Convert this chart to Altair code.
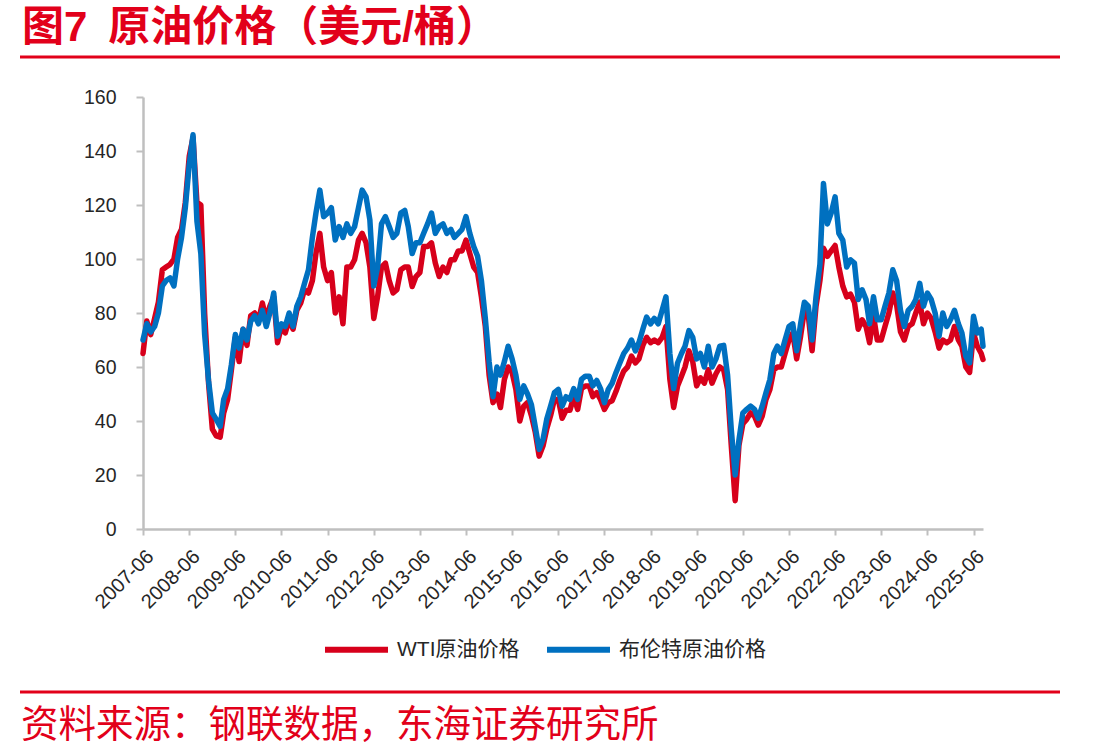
import altair as alt
import pandas as pd

# ---- data (monthly, 2007-06 .. 2025-08, plus last point) ----
months = pd.date_range("2007-06-01", "2025-08-01", freq="MS").strftime("%Y-%m-%dT00:00:00").tolist() + ["2025-08-15T00:00:00"]

wti = [
    65, 77, 72, 78, 84, 96, 97,                                   # 2007 Jun-Dec
    98, 100, 108, 111, 121, 138, 145, 121, 120, 80, 54, 37,       # 2008
    34.5, 34, 43, 48, 59, 71, 62, 74, 68, 79, 80, 77,             # 2009
    83.7, 77.5, 82.5, 86, 69, 75, 72.6, 77.5, 74, 81, 83.7, 88.6, # 2010
    87.4, 92, 102, 109.5, 97, 92, 95, 80, 86, 76, 97, 97,         # 2011
    99.7, 107, 109.5, 106, 97, 78, 86, 97, 98.5, 92, 87.4, 88.6,  # 2012
    96, 97, 97, 89.8, 93.5, 95, 104.6, 104.6, 106, 98.5, 93.5, 97,# 2013
    95, 99.7, 99.7, 103, 103, 107, 102, 97, 95, 86, 75, 57,       # 2014
    46.8, 50, 45, 55.4, 60, 58, 51.7, 40, 45.5, 46.8, 42, 36,     # 2015
    27, 30.8, 37, 42, 48, 48, 41, 44, 44, 49, 44.3, 52,           # 2016
    53, 53, 49, 50.5, 48, 44.3, 46.8, 47.5, 51, 55, 58.5, 60,     # 2017
    64, 61.5, 63, 68, 71, 69, 70, 69, 71, 75, 55.4, 45,           # 2018
    53, 56.6, 60, 66, 62, 53, 56, 54, 59, 54, 57.5, 60,           # 2019
    59, 51.7, 31, 10.5, 31, 39, 40.6, 43, 41.8, 38.5, 41.8, 48,   # 2020
    51.7, 59, 60, 60, 65, 70, 72.6, 63, 71.4, 81, 79, 66,         # 2021
    82.5, 92, 104, 101, 103, 105, 97, 90, 86, 87, 84, 74,         # 2022
    77.5, 75, 69, 79, 70, 70, 75, 80, 87.4, 83, 73, 70,           # 2023
    75, 76, 80, 84, 76, 80, 78, 73, 67, 70, 69, 70,               # 2024
    75, 70, 67.7, 60, 58, 72.6, 67.7, 65, 62.8,                   # 2025
]

brent = [
    70, 76, 73, 75, 80, 90, 92,                                   # 2007 Jun-Dec
    93, 90, 100, 108, 119, 135, 146, 114, 102, 72, 55, 43,        # 2008
    40.6, 38, 48, 52, 61, 72, 67, 74, 70, 77, 79, 76,             # 2009
    81, 75, 80, 87.4, 71.4, 76, 75, 80, 75, 82.5, 86, 91,         # 2010
    96, 108, 117, 125.5, 115.7, 117, 119, 107, 112, 108, 113, 109.5,  # 2011
    112, 119, 125.5, 123, 114.5, 90, 97, 113, 115.7, 112, 108, 109.5, # 2012
    117, 118, 112, 102, 106, 106, 109.5, 113, 117, 109.5, 112, 113,   # 2013
    109.5, 111, 108, 109.5, 111, 115.7, 109.5, 104.6, 101, 92, 78, 62,# 2014
    49, 60, 57, 62, 67.7, 63, 57, 48, 53, 50, 46, 38,             # 2015
    29.5, 33.2, 40.6, 45.5, 50.5, 51.7, 45.5, 49, 48, 52, 48, 55.4,   # 2016
    56.6, 56.6, 53, 55, 52, 46.8, 51.7, 54, 58, 61.5, 65, 67,     # 2017
    70, 66, 69, 74, 78.5, 76, 78, 76, 81, 86, 65, 52,             # 2018
    61.5, 65, 67.7, 73.5, 71, 63, 65, 60, 67.7, 60, 63, 67.7,     # 2019
    68, 57, 37, 20, 33, 43, 44.3, 45.5, 44.3, 41, 45.5, 50.5,     # 2020
    55.4, 65, 67.7, 65, 70, 75, 76, 66, 76, 84, 82.5, 70,         # 2021
    86, 98, 128, 113, 117, 123, 109.5, 107, 97, 99.7, 98.5, 85,   # 2022
    88.6, 85, 76, 86, 77.5, 77.5, 82.5, 87.4, 96, 92, 81, 75,     # 2023
    81, 82.5, 85, 91, 82.5, 87.4, 85, 80, 71.4, 80, 75, 77.5,     # 2024
    81, 76, 72.6, 64, 61.5, 78.8, 72.6, 74, 67.7,                 # 2025
]

series_names = ["WTI原油价格", "布伦特原油价格"]
line_colors = ["#D7001B", "#0070C0"]
tick_years = list(range(2007, 2026))
y_ticks = [0, 20, 40, 60, 80, 100, 120, 140, 160]
title_text = "图7\u2002原油价格（美元/桶）"
source_text = "资料来源：钢联数据，东海证券研究所"

RED = "#E2001A"
AXIS_GRAY = "#BFBFBF"
LABEL_COLOR = "#262626"
LATIN_FONT = "Liberation Sans, Noto Sans CJK SC"
CJK_FONT = "Noto Sans CJK SC"

df = pd.DataFrame({
    "date": months + months,
    "value": wti + brent,
    "series": [series_names[0]] * len(wti) + [series_names[1]] * len(brent),
})

x_enc = alt.X(
    "date:T",
    scale=alt.Scale(domain=[alt.DateTime(year=2007, month=6, date=1),
                            alt.DateTime(year=2025, month=8, date=15)], nice=False),
    axis=alt.Axis(
        values=[alt.DateTime(year=y, month=6, date=1) for y in tick_years],
        format="%Y-%m", labelAngle=-45, labelAlign="right", labelBaseline="top",
        labelPadding=11, labelFont=LATIN_FONT, labelFontSize=20, labelColor=LABEL_COLOR,
        labelOverlap=False, labelFlush=False, labelBound=False,
        domainColor=AXIS_GRAY, domainWidth=2.5, tickColor=AXIS_GRAY, tickWidth=2,
        tickSize=6, grid=False, title=None,
    ),
)
y_enc = alt.Y(
    "value:Q",
    scale=alt.Scale(domain=[0, 160], nice=False, zero=True),
    axis=alt.Axis(
        values=y_ticks, labelFont=LATIN_FONT, labelFontSize=19.5, labelColor=LABEL_COLOR,
        labelPadding=20, domainColor=AXIS_GRAY, domainWidth=2.5, tickColor=AXIS_GRAY,
        tickWidth=2, tickSize=7, grid=False, title=None,
    ),
)
color_enc = alt.Color(
    "series:N",
    scale=alt.Scale(domain=series_names, range=line_colors),
    legend=alt.Legend(
        title=None, orient="none", legendX=179, legendY=518, direction="horizontal",
        symbolType="stroke", symbolSize=3969, symbolStrokeWidth=6, labelOffset=6,
        columnPadding=15, labelFont=LATIN_FONT, labelFontSize=21, labelColor=LABEL_COLOR,
        labelLimit=400, padding=0,
    ),
)

base = alt.Chart(df).mark_line(strokeWidth=5.5, strokeJoin="round", strokeCap="round").encode(
    x=x_enc, y=y_enc, color=color_enc
)
wti_line = base.transform_filter(alt.datum.series == series_names[0])
brent_line = base.transform_filter(alt.datum.series == series_names[1])

one = pd.DataFrame({"k": [0]})
title_mark = alt.Chart(pd.DataFrame({"t": [title_text]})).mark_text(
    font=LATIN_FONT, fontSize=42, fontWeight="bold", color=RED, align="left", baseline="alphabetic"
).encode(x=alt.value(-121), y=alt.value(-56), text="t:N")
top_rule = alt.Chart(one).mark_rule(color=RED, strokeWidth=3).encode(
    x=alt.value(-123), x2=alt.value(917), y=alt.value(-40))
bottom_rule = alt.Chart(one).mark_rule(color=RED, strokeWidth=3).encode(
    x=alt.value(-123), x2=alt.value(917), y=alt.value(595))
source_mark = alt.Chart(pd.DataFrame({"t": [source_text]})).mark_text(
    font=CJK_FONT, fontSize=37.5, color=RED, align="left", baseline="alphabetic"
).encode(x=alt.value(-122), y=alt.value(640), text="t:N")

chart = alt.layer(
    wti_line, brent_line, title_mark, top_rule, bottom_rule, source_mark
).properties(
    width=840, height=432,
    padding={"left": 143, "top": 97, "right": 125, "bottom": 226},
    autosize=alt.AutoSizeParams(type="none"),
    background="white",
).configure_view(stroke=None)

chart.save("out.html", embed_options={"renderer": "svg", "actions": False})
